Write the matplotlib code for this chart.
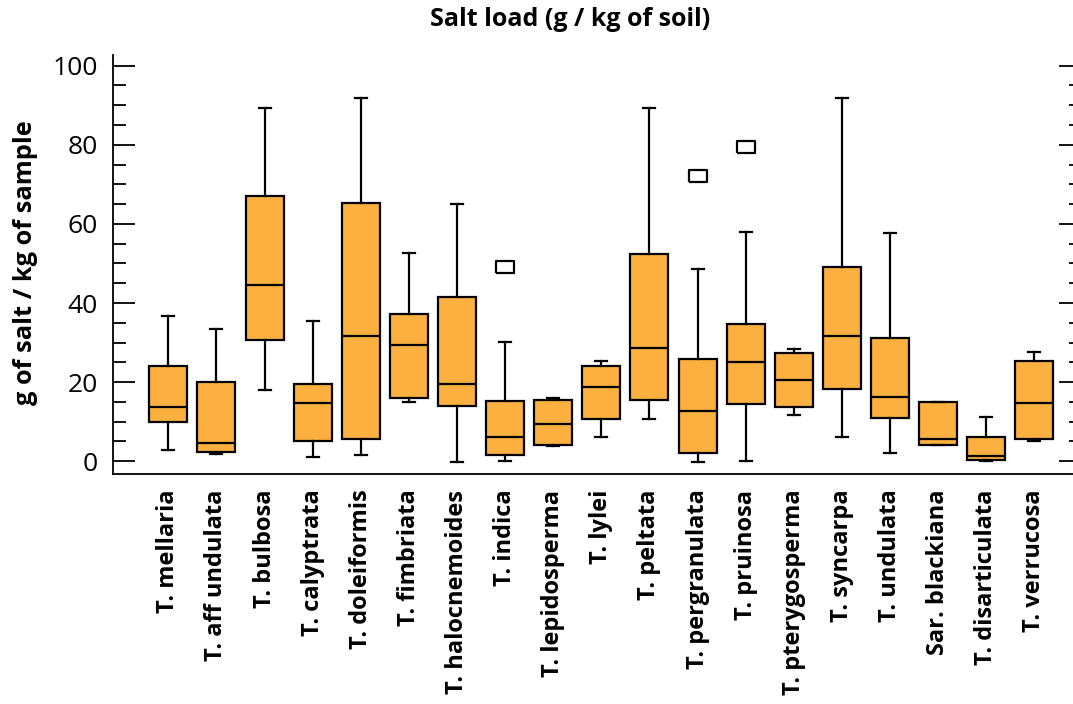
import matplotlib.pyplot as plt
from matplotlib.ticker import MultipleLocator

plt.rcParams['font.family'] = ['Open Sans', 'DejaVu Sans']

# noms des especes (axe x)
especes = ["T. mellaria", "T. aff undulata", "T. bulbosa", "T. calyptrata",
           "T. doleiformis", "T. fimbriata", "T. halocnemoides", "T. indica",
           "T. lepidosperma", "T. lylei", "T. peltata", "T. pergranulata",
           "T. pruinosa", "T. pterygosperma", "T. syncarpa", "T. undulata",
           "Sar. blackiana", "T. disarticulata", "T. verrucosa"]

# statistiques (g de sel / kg d'echantillon)
moustache_bas = [2.9, 1.9, 17.9, 1.1, 1.6, 15.1, -0.2, 0.0, 3.8, 6.1,
                 10.8, -0.1, 0.0, 11.7, 6.1, 2.1, 4.1, 0.1, 5.1]
q1 = [9.9, 2.3, 30.6, 5.1, 5.6, 16.1, 14.0, 1.5, 4.1, 10.6,
      15.6, 2.1, 14.4, 13.8, 18.3, 10.9, 4.1, 0.4, 5.6]
mediane = [13.7, 4.5, 44.6, 14.7, 31.7, 29.3, 19.4, 6.1, 9.3, 18.8,
           28.7, 12.8, 25.1, 20.6, 31.7, 16.2, 5.6, 1.3, 14.6]
q3 = [24.2, 20.1, 67.1, 19.6, 65.2, 37.3, 41.6, 15.2, 15.6, 24.1,
      52.4, 25.9, 34.8, 27.4, 49.1, 31.2, 15.0, 6.1, 25.4]
moustache_haut = [36.6, 33.4, 89.3, 35.4, 91.8, 52.7, 65.1, 30.2, 16.0, 25.4,
                  89.3, 48.6, 58.0, 28.4, 91.8, 57.7, 15.0, 11.3, 27.6]
# valeurs extremes (une seule par espece concernee)
extremes = {"T. indica": [49.0], "T. pergranulata": [72.2], "T. pruinosa": [79.4]}

stats = []
for i, nom in enumerate(especes):
    stats.append({
        "label": nom,
        "whislo": moustache_bas[i],
        "q1": q1[i],
        "med": mediane[i],
        "q3": q3[i],
        "whishi": moustache_haut[i],
        "fliers": extremes.get(nom, []),
    })

fig = plt.figure(figsize=(10.73, 7.04), dpi=100)
ax = fig.add_axes([0.1056, 0.3263, 0.9019, 0.5956])

# marqueur rectangulaire pour les valeurs extremes
rect = [(-1.5, -1), (1.5, -1), (1.5, 1), (-1.5, 1), (-1.5, -1)]

ax.bxp(stats, positions=range(1, len(especes) + 1), widths=0.79,
       capwidths=0.25, patch_artist=True,
       boxprops=dict(facecolor='#FBB040', edgecolor='black', linewidth=1.6),
       medianprops=dict(color='black', linewidth=1.6),
       whiskerprops=dict(color='black', linewidth=1.6),
       capprops=dict(color='black', linewidth=1.6),
       flierprops=dict(marker=rect, markersize=13, markerfacecolor='white',
                       markeredgecolor='black', markeredgewidth=1.6))

ax.set_xlim(-0.143, 19.97)
ax.set_ylim(-3.3, 102.7)

ax.spines['top'].set_visible(False)
ax.spines['right'].set_visible(False)
ax.spines['left'].set_linewidth(1.3)
ax.spines['bottom'].set_linewidth(1.3)

ax.yaxis.set_major_locator(MultipleLocator(20))
ax.yaxis.set_minor_locator(MultipleLocator(5))
ax.tick_params(axis='y', which='major', direction='in', length=16, width=1.3,
               right=True, labelsize=19, pad=11)
ax.tick_params(axis='y', which='minor', direction='in', length=9, width=1.3,
               right=True)
ax.tick_params(axis='x', length=0, pad=11)

ax.set_xticks(range(1, len(especes) + 1))
ax.set_xticklabels(especes, rotation=90, fontsize=17, fontweight='bold',
                   ha='center', va='top')

fig.text(0.0233, 0.627, "g of salt / kg of sample", rotation=90, fontsize=18.3,
         fontweight='bold', ha='center', va='center')
fig.text(0.531, 0.972, "Salt load (g / kg of soil)", fontsize=18,
         fontweight='bold', ha='center', va='center')

fig.savefig("out.png", dpi=100)
